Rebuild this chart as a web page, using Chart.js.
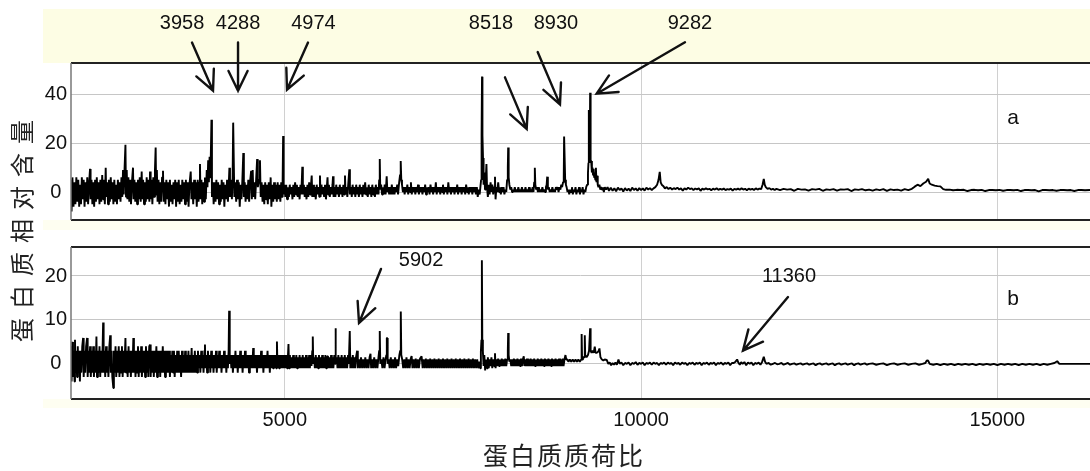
<!DOCTYPE html>
<html>
<head>
<meta charset="utf-8">
<script src="https://cdn.jsdelivr.net/npm/chart.js"></script>
<style>
  html, body { margin: 0; padding: 0; background: #fff; }
  #wrap { position: relative; width: 1090px; height: 471px; }
  canvas { position: absolute; left: 0; top: 0; }
</style>
</head>
<body>
<div id="wrap">
  <canvas id="chartB" width="1090" height="471"></canvas>
  <canvas id="chartA" width="1090" height="236"></canvas>
</div>
<script>
// axis ranges and ticks
const X_MIN = 2000, X_MAX = 16300;
const xTicks = [5000, 10000, 15000];
const yTicksA = [0, 20, 40];
const yTicksB = [0, 10, 20];

// spectrum a: [m/z, relative content]
const spectrumA = [
  [2000,5],[2008,-8],[2020,6],[2035,-6],[2050,4],[2062,-5],[2075,6],[2090,-4],[2102,5],[2115,-6],
  [2128,3],[2140,-5],[2152,6],[2165,-3],[2178,5],[2190,-6],[2203,4],[2215,-4],[2228,6],[2240,-5],
  [2255,4],[2267,9.5],[2275,-3],[2288,5],[2300,-5],[2312,4],[2325,-6],[2338,5],[2350,-4],[2362,6],
  [2375,-3],[2388,4],[2400,-5],[2412,5],[2425,-4],[2438,7],[2450,-3],[2462,5],[2475,-5],[2487,10],
  [2495,-2],[2508,4],[2520,-5],[2532,5],[2545,-4],[2558,6],[2570,-3],[2582,4],[2595,-5],[2608,5],
  [2620,-4],[2632,3],[2645,-5],[2658,5],[2670,-3],[2682,4],[2695,-4],[2708,6],[2720,-2],[2730,9],
  [2740,-1],[2752,10],[2764,19.4],[2772,-2],[2782,9],[2792,-3],[2805,6],[2818,-4],[2830,5],[2842,-5],
  [2855,4],[2870,10],[2878,-3],[2890,5],[2902,-4],[2915,4],[2928,-5],[2940,5],[2952,-3],[2965,6],
  [2978,-4],[2992,8.4],[3000,-3],[3012,5],[3025,-5],[3038,4],[3050,-4],[3062,6],[3075,-3],[3088,5],
  [3100,-4],[3109,8.4],[3118,-3],[3130,5],[3142,-5],[3155,6],[3165,-2],[3178,9],[3188,18.3],[3196,-1],
  [3205,9],[3215,-4],[3228,5],[3240,-5],[3252,4],[3265,-4],[3278,6],[3291,8.7],[3300,-4],[3312,4],
  [3325,-5],[3338,5],[3350,-3],[3362,4],[3375,-6],[3388,5],[3400,-4],[3412,3],[3425,-5],[3438,4],
  [3450,-3],[3462,5],[3475,-6],[3488,4],[3500,-4],[3512,5],[3525,-5],[3538,3],[3550,-4],[3562,5],
  [3575,-3],[3588,4],[3600,-5],[3612,5],[3625,-4],[3638,4],[3650,-6],[3662,3],[3680,8.4],[3690,-3],
  [3702,4],[3715,-5],[3728,5],[3740,-3],[3752,4],[3765,-6],[3778,5],[3790,-4],[3802,4],[3810,11.5],
  [3818,-3],[3830,5],[3842,-5],[3855,4],[3868,-4],[3880,6],[3892,-3],[3905,9],[3915,2],[3925,13],
  [3935,4],[3945,14.5],[3955,6],[3962,15],[3971,29.7],[3978,-2],[3990,4],[4002,-5],[4015,4],[4028,-4],
  [4040,5],[4052,-3],[4065,4],[4078,-5],[4090,3],[4102,-4],[4115,5],[4128,-3],[4140,4],[4152,-6],
  [4165,3],[4178,-3],[4190,5],[4202,-4],[4215,4],[4223,10],[4231,-2],[4245,5],[4258,-3],[4268,6],
  [4276,28.5],[4284,28.5],[4292,-2],[4305,4],[4318,-4],[4330,5],[4342,-3],[4355,4],[4368,-6],[4380,3],
  [4392,-3],[4405,5],[4418,16],[4426,-2],[4438,4],[4450,-4],[4462,3],[4475,-3],[4488,5],[4500,-4],
  [4512,4],[4528,8.7],[4538,-3],[4550,9],[4560,-2],[4572,4],[4585,-3],[4598,5],[4612,13.5],[4622,2],
  [4640,5],[4652,13],[4662,-2],[4675,4],[4688,-4],[4700,3],[4712,-5],[4725,4],[4738,-3],[4750,3],
  [4762,-5],[4775,4],[4790,-3],[4802,6],[4812,-6],[4825,3],[4838,-4],[4850,4],[4862,-3],[4875,3],
  [4888,-4],[4900,4],[4912,-3],[4925,3],[4938,-4],[4950,4],[4962,-2],[4970,5],[4977,23],[4984,-1],
  [4995,3],[5008,-2],[5020,3],[5032,-3],[5045,2],[5058,-2],[5070,3],[5082,-1],[5095,2],[5108,-3],
  [5120,3],[5132,-2],[5145,4],[5158,-1],[5170,3],[5182,-2],[5195,2],[5208,-3],[5220,3],[5232,-1],
  [5246,10.4],[5254,-1],[5268,3],[5280,-2],[5292,2],[5305,-3],[5318,3],[5330,-2],[5342,4],[5355,-1],
  [5368,3],[5378,6.8],[5386,-2],[5398,3],[5410,-2],[5422,2],[5435,-3],[5448,3],[5460,-1],[5472,2],
  [5485,-2],[5494,6.8],[5502,-2],[5515,3],[5528,-1],[5540,2],[5552,-2],[5565,3],[5578,-3],[5590,2],
  [5600,6],[5608,-1],[5620,3],[5632,-2],[5645,2],[5658,-1],[5670,3],[5677,6.5],[5685,-2],[5698,2],
  [5710,-2],[5722,3],[5735,-1],[5748,2],[5760,-2],[5772,3],[5785,-1],[5798,2],[5810,-2],[5822,3],
  [5835,-1],[5845,6.8],[5853,-1],[5865,2],[5878,-2],[5890,3],[5906,9.3],[5914,-1],[5928,2],[5940,-2],
  [5952,3],[5965,-1],[5978,2],[5990,-2],[6002,3],[6015,-1],[6028,2],[6040,-2],[6052,3],[6065,-1],
  [6078,2],[6090,-2],[6102,3],[6115,-1],[6128,4],[6140,-1],[6152,2],[6165,-2],[6178,3],[6190,-1],
  [6202,2],[6215,-2],[6228,3],[6240,-1],[6252,2],[6265,-2],[6278,3],[6290,-1],[6302,2],[6315,-1],
  [6325,5],[6333,13.6],[6340,1],[6352,3],[6365,-1],[6378,2],[6390,-1],[6402,3],[6415,-1],[6430,6.5],
  [6440,0],[6452,2],[6465,-1],[6478,2],[6490,-1],[6502,3],[6515,-1],[6528,2],[6540,-1],[6552,2],
  [6565,0],[6578,3],[6590,-1],[6605,4],[6618,7],[6627,12.7],[6635,5],[6645,3],[6658,0],[6670,2],
  [6682,-1],[6695,2],[6708,0],[6720,3],[6732,-1],[6745,2],[6758,0],[6770,4],[6782,-1],[6795,2],
  [6808,0],[6820,2],[6832,-1],[6845,2],[6858,0],[6870,3],[6882,-1],[6895,2],[6908,0],[6920,2],
  [6932,-1],[6945,2],[6958,0],[6970,3],[6982,-1],[6995,2],[7008,0],[7020,2],[7032,-1],[7045,3],
  [7058,0],[7070,2],[7082,-1],[7095,2],[7108,0],[7120,4],[7132,-1],[7145,2],[7158,0],[7170,2],
  [7182,-1],[7195,2],[7208,0],[7220,3],[7232,-1],[7245,2],[7258,0],[7270,2],[7282,-1],[7295,4],
  [7308,0],[7320,2],[7332,-1],[7345,2],[7358,0],[7370,2],[7382,-1],[7395,2],[7408,0],[7420,3],
  [7432,-1],[7445,2],[7458,0],[7470,2],[7482,-1],[7495,2],[7508,0],[7520,2],[7532,-1],[7545,3],
  [7558,0],[7570,2],[7582,-1],[7595,2],[7608,0],[7620,2],[7632,-1],[7645,2],[7658,0],[7670,2],
  [7682,-1],[7695,2],[7708,-2],[7720,1],[7735,-1],[7745,2],[7755,5],[7762,23.3],[7768,47.4],[7774,23.3],
  [7782,14],[7790,3],[7800,8],[7810,1],[7822,6],[7830,11.5],[7838,2],[7850,-2],[7862,3],[7875,-1],
  [7888,4],[7900,0],[7912,3],[7925,-1],[7938,2],[7950,6.3],[7958,-3],[7970,2],[7982,0],[7995,4],
  [8008,0],[8020,2],[8032,-1],[8045,2],[8058,0],[8070,2],[8082,-1],[8095,1],[8108,0],[8120,5],
  [8130,10],[8135,18.3],[8142,6],[8152,3],[8165,1],[8178,2],[8190,0],[8202,1],[8215,0],[8228,2],
  [8240,0],[8252,1],[8265,0],[8278,2],[8290,0],[8302,1],[8315,0],[8328,2],[8340,0],[8352,1],
  [8365,0],[8378,2],[8390,0],[8402,1],[8415,0],[8428,2],[8440,0],[8452,1],[8465,0],[8478,2],
  [8490,0],[8500,4],[8509,10],[8516,3],[8528,1],[8540,2],[8552,0],[8565,2],[8578,0],[8590,1],
  [8602,0],[8615,2],[8628,0],[8640,1],[8652,0],[8665,2],[8675,3],[8683,6.3],[8692,1],[8705,2],
  [8718,0],[8730,1],[8742,0],[8755,2],[8768,0],[8780,1],[8792,0],[8805,2],[8818,1],[8830,2],
  [8842,0],[8855,2],[8868,1],[8880,3],[8892,2],[8905,4],[8915,6],[8920,22.8],[8928,22.8],[8935,5],
  [8945,3],[8955,2],[8968,0],[8980,1],[8992,-1],[9005,1],[9018,0],[9030,2],[9042,-1],[9055,1],
  [9068,0],[9080,2],[9092,-1],[9105,1],[9118,0],[9130,2],[9142,-1],[9155,1],[9168,0],[9180,2],
  [9192,-1],[9205,1],[9218,0],[9230,2],[9242,3],[9255,8],[9262,12],[9267,33.7],[9272,14],[9280,12],
  [9285,40.8],[9292,13],[9300,12.7],[9310,8],[9318,10],[9326,7],[9334,9.5],[9342,6],[9350,8],[9358,5],
  [9366,10],[9374,4],[9382,6.7],[9392,3],[9402,2],[9415,3],[9428,1],[9440,2],[9452,1],[9465,2],
  [9478,0],[9490,2],[9510,1],[9530,2],[9550,0.5],[9575,1.8],[9600,0.5],[9625,1.5],[9650,0.3],[9675,1.8],
  [9700,0.8],[9725,1.5],[9750,0.2],[9775,1.6],[9800,0.6],[9825,1.4],[9850,0.4],[9875,1.8],[9900,0.8],[9925,1.5],
  [9950,0.5],[9975,1.6],[10000,0.8],[10025,1.5],[10050,0.6],[10075,1.8],[10100,1],[10125,1.6],[10150,0.8],[10175,1.5],
  [10200,2],[10225,3],[10245,5],[10262,8.3],[10275,4],[10290,3],[10310,2.5],[10335,1.5],[10360,2],[10385,1.2],
  [10410,1.8],[10435,1],[10460,1.6],[10485,1.2],[10510,1.8],[10535,1],[10560,1.5],[10585,0.6],[10610,1.5],[10635,1],
  [10660,1.8],[10685,1.2],[10710,1.5],[10735,0.8],[10760,1.4],[10785,1.1],[10810,1.5],[10835,0.5],[10860,1.4],[10885,1],
  [10910,1.5],[10935,1.1],[10960,1.3],[10985,0.7],[11010,1.4],[11035,1],[11060,1.5],[11085,0.9],[11110,1.3],[11135,1],
  [11160,1.4],[11185,0.8],[11210,1.2],[11235,1],[11260,1.4],[11285,0.6],[11310,1.3],[11335,1],[11360,1.4],[11385,0.9],
  [11410,1.5],[11435,1],[11460,1.3],[11485,0.7],[11510,1.4],[11535,1],[11560,1.3],[11585,0.8],[11610,1.5],[11635,1],
  [11660,1.4],[11685,1.2],[11705,3],[11722,5.4],[11735,3],[11750,2],[11775,1.3],[11800,1.6],[11825,1],[11850,1.3],
  [11875,0.8],[11900,1.3],[11950,0.8],[12000,1.3],[12050,1],[12100,1.2],[12150,0.5],[12200,1.3],[12250,1],[12300,1.1],
  [12350,0.6],[12400,1.2],[12450,1],[12500,1.3],[12550,0.5],[12600,1.1],[12650,0.9],[12700,1.2],[12750,0.6],[12800,1.1],
  [12850,1],[12900,1.2],[12950,0.4],[13000,1.1],[13050,0.9],[13100,1.2],[13150,0.7],[13200,1],[13250,0.6],[13300,1.1],
  [13350,0.8],[13400,1.2],[13450,0.5],[13500,1.1],[13550,0.8],[13600,1],[13650,0.6],[13700,1.2],[13750,0.8],[13800,1.3],
  [13840,2.2],[13880,3],[13920,2.4],[13960,3.5],[14000,4.2],[14029,5.4],[14050,3.5],[14080,3],[14120,2.6],[14160,2.4],
  [14200,2.3],[14240,1.2],[14280,0.9],[14330,1],[14380,0.7],[14430,0.9],[14480,0.8],[14530,0.9],[14580,0.4],[14630,0.8],
  [14680,0.9],[14730,0.7],[14780,0.9],[14830,0.4],[14880,0.8],[14930,0.8],[14980,0.7],[15030,0.9],[15080,0.5],[15130,0.8],
  [15180,0.8],[15230,0.7],[15280,0.9],[15330,0.4],[15380,0.8],[15430,0.8],[15480,0.7],[15530,0.8],[15580,0.3],[15630,0.8],
  [15680,0.8],[15730,0.7],[15780,0.8],[15830,0.5],[15880,0.8],[15930,0.8],[15980,0.7],[16030,0.8],[16080,0.4],[16130,0.8],
  [16180,0.8],[16230,0.7],[16300,0.8]
];

// spectrum b: [m/z, relative content]
const spectrumB = [
  [2000,4],[2008,-4],[2018,5],[2028,-3],[2040,3],[2050,-4],[2056,5.5],[2064,-2],[2075,3],[2085,-3],
  [2095,4],[2105,-2],[2115,3],[2125,-4],[2135,3],[2145,-2],[2158,4],[2170,5.9],[2178,-3],[2190,3],
  [2200,-2],[2212,4],[2226,5.9],[2234,-3],[2245,3],[2255,-2],[2268,4],[2278,-3],[2290,3],[2300,-2],
  [2312,4],[2322,-3],[2335,3],[2345,-2],[2357,6.2],[2365,-3],[2378,3],[2388,-2],[2400,4],[2410,-3],
  [2422,3],[2432,-2],[2444,4],[2451,9.4],[2458,-2],[2470,3],[2480,-3],[2492,4],[2502,-2],[2515,3],
  [2525,-3],[2538,4],[2550,6.5],[2558,-2],[2570,3],[2580,-3],[2594,-5.5],[2602,3],[2612,-2],[2625,4],
  [2635,-3],[2648,3],[2658,-2],[2670,4],[2680,-3],[2692,3],[2702,-2],[2715,4],[2725,-3],[2738,3],
  [2748,-2],[2764,5.9],[2772,-2],[2785,3],[2795,-3],[2808,4],[2818,-2],[2830,3],[2840,-3],[2852,3],
  [2862,-2],[2875,5.9],[2883,-2],[2895,3],[2905,-3],[2918,3],[2928,-2],[2940,4],[2950,-3],[2962,3],
  [2972,-2],[2985,4],[2995,-3],[3008,3],[3018,-2],[3030,3],[3040,-3],[3052,4],[3062,-2],[3075,3],
  [3085,-3],[3098,4],[3109,4.4],[3118,-3],[3130,3],[3140,-2],[3152,3],[3162,-3],[3175,3],[3185,-2],
  [3198,4],[3208,-3],[3220,3],[3230,-2],[3242,3],[3252,-3],[3265,3],[3275,-2],[3288,4],[3298,-2],
  [3310,3],[3320,-3],[3332,3],[3342,-2],[3355,3],[3365,-2],[3378,3],[3388,-3],[3400,2],[3410,-2],
  [3422,3],[3432,-2],[3445,3],[3455,-3],[3468,2],[3478,-2],[3490,3],[3500,-2],[3512,3],[3522,-2],
  [3535,2],[3545,-3],[3558,3],[3568,-2],[3580,2],[3590,-2],[3602,3],[3612,-2],[3625,2],[3635,-2],
  [3648,3],[3658,-2],[3670,2],[3680,-2],[3693,3.6],[3702,-2],[3715,2],[3725,-2],[3738,3],[3748,-2],
  [3760,2],[3770,-2],[3782,3],[3792,-1],[3805,2],[3815,-2],[3828,3],[3838,-1],[3850,2],[3860,-2],
  [3872,3],[3880,4.4],[3888,-1],[3900,2],[3910,-2],[3922,3],[3932,-1],[3945,2],[3955,-2],[3968,3],
  [3978,-1],[3990,2],[4000,-2],[4012,2],[4022,-1],[4035,3],[4045,-2],[4058,2],[4068,-1],[4080,3],
  [4090,-1],[4102,2],[4112,-2],[4125,2],[4135,-1],[4148,3],[4158,-1],[4170,2],[4180,-2],[4192,2],
  [4202,-1],[4212,3],[4219,12.1],[4225,12.1],[4230,0],[4240,2],[4250,-1],[4262,2],[4272,-2],[4285,2],
  [4295,-1],[4308,3],[4318,-1],[4330,2],[4340,-2],[4352,2],[4362,-1],[4375,3],[4385,-1],[4398,2],
  [4408,-2],[4420,2],[4430,-1],[4442,3],[4452,-1],[4465,2],[4475,-1],[4488,2],[4498,-2],[4510,2],
  [4520,-1],[4532,2],[4542,-1],[4557,3.6],[4565,-1],[4578,2],[4588,-1],[4600,2],[4610,-2],[4622,2],
  [4632,-1],[4645,2],[4655,-1],[4668,3],[4678,-1],[4690,2],[4700,-2],[4712,2],[4722,-1],[4735,2],
  [4745,-1],[4758,3],[4768,-1],[4780,2],[4790,-2],[4802,2],[4812,-1],[4825,2],[4835,-1],[4848,2],
  [4858,-1],[4870,2],[4880,-1],[4890,5.1],[4898,-1],[4910,2],[4920,-1],[4932,2],[4942,-1],[4955,2],
  [4965,-1],[4978,2],[4988,-1],[5000,2],[5010,-1],[5022,2],[5032,-1],[5045,2],[5052,4.5],[5060,-1],
  [5072,2],[5082,-1],[5095,1.5],[5105,-1],[5118,2],[5128,-1],[5140,1.5],[5150,-1],[5162,2],[5172,-1],
  [5185,1.5],[5195,-1],[5208,2],[5218,-1],[5230,1.5],[5240,-1],[5252,2],[5262,-1],[5275,1.5],[5285,-1],
  [5298,2],[5308,-1],[5320,1.5],[5330,-1],[5342,2],[5352,-1],[5365,2],[5375,-0.5],[5386,3],[5393,6.2],
  [5400,0],[5412,1.5],[5422,-1],[5435,2],[5445,-1],[5458,1.5],[5468,-1],[5480,2],[5490,-1],[5502,1.5],
  [5512,-1],[5525,2],[5535,-1],[5548,1.5],[5558,-1],[5570,2],[5580,-1],[5592,1.5],[5606,1.8],[5615,-1],
  [5628,1.5],[5638,-1],[5650,2],[5660,-1],[5672,1.5],[5682,-1],[5695,2],[5705,0],[5711,8.1],[5718,0],
  [5730,1.5],[5740,-1],[5752,2],[5762,-1],[5775,1.5],[5785,-1],[5798,2],[5808,-1],[5820,1.5],[5830,-1],
  [5842,2],[5852,-1],[5865,1.5],[5875,-1],[5888,2],[5898,0],[5912,7.5],[5920,-1],[5932,1.5],[5942,-1],
  [5955,2],[5965,-1],[5978,1.5],[5988,-1],[6000,1.5],[6016,3],[6025,-1],[6040,1],[6055,-1],[6070,1.5],
  [6085,-1],[6100,1],[6115,-1],[6130,1.5],[6145,-1],[6160,1],[6175,-1],[6190,1.5],[6203,2.3],[6212,-1],
  [6225,1],[6240,-1],[6255,1.5],[6270,-1],[6285,1],[6300,-1],[6315,1.5],[6325,3],[6333,7.5],[6340,0],
  [6355,1],[6370,-1],[6385,1.5],[6400,-1],[6415,1],[6425,2],[6432,5.9],[6437,5.9],[6444,0],[6458,1],
  [6472,-1],[6488,1.5],[6502,-1],[6518,1],[6532,-1],[6548,1.5],[6562,-1],[6578,1],[6592,-0.5],[6608,2],
  [6620,3],[6628,11.9],[6635,2],[6648,1],[6662,-1],[6678,1],[6692,-1],[6708,1.5],[6722,-1],[6738,1],
  [6752,-1],[6768,1.2],[6780,1.8],[6792,-1],[6808,1],[6822,-1],[6838,1.2],[6852,-1],[6868,1],[6882,-1],
  [6898,1.2],[6920,1.7],[6935,-1],[6950,1],[6965,-1],[6980,1.2],[6995,-1],[7010,1],[7025,-1],[7040,1.2],
  [7055,-1],[7070,1],[7085,-1],[7100,1.2],[7115,-1],[7130,1],[7145,-1],[7160,1.2],[7175,-1],[7190,1],
  [7205,-1],[7220,1.2],[7235,-1],[7250,1],[7265,-1],[7280,1.2],[7295,-1],[7310,1],[7325,-1],[7340,1.2],
  [7355,-1],[7370,1],[7385,-1],[7400,1.2],[7415,-1],[7430,1],[7445,-1],[7460,1.2],[7475,-1],[7490,1],
  [7505,-1],[7520,1.2],[7535,-1],[7550,1],[7565,-1],[7580,1.2],[7595,-1],[7610,1],[7625,-1],[7640,1.2],
  [7655,-1],[7670,1],[7685,-1],[7700,1],[7715,-1],[7730,0.5],[7745,-1],[7752,2.8],[7760,5.5],[7766,23.6],
  [7772,5.5],[7780,2.8],[7790,-0.5],[7800,2],[7812,-1.5],[7825,1],[7838,-1],[7850,1.5],[7862,-1],[7875,1],
  [7888,-0.5],[7900,1.5],[7912,-1],[7925,1],[7938,-0.5],[7950,2.4],[7958,-1],[7970,1],[7982,-0.5],[7995,1.2],
  [8008,-0.5],[8020,1],[8032,-0.5],[8045,1.2],[8058,-0.5],[8070,1],[8082,-0.5],[8095,1.2],[8108,-0.5],[8120,1],
  [8130,3],[8135,7],[8142,2],[8152,0.5],[8165,1],[8178,-0.5],[8190,1],[8202,-0.5],[8215,1.2],[8228,-0.5],
  [8240,1],[8252,-0.5],[8265,1.2],[8278,-0.5],[8290,1],[8302,-0.5],[8315,1.2],[8328,-0.5],[8340,1],[8354,1.7],
  [8362,-0.5],[8375,1],[8388,-0.5],[8400,1.2],[8412,-0.5],[8425,1],[8438,-0.5],[8450,1.2],[8462,-0.5],[8475,1],
  [8488,-0.5],[8500,1.2],[8512,-0.5],[8525,1],[8538,-0.5],[8550,1.2],[8562,-0.5],[8575,1],[8588,-0.5],[8600,1.2],
  [8612,-0.5],[8625,1],[8638,-0.5],[8650,1.2],[8662,-0.5],[8675,1],[8688,-0.5],[8700,1.2],[8712,-0.5],[8725,1],
  [8738,-0.5],[8750,1.2],[8762,-0.5],[8775,1],[8788,-0.5],[8800,1.2],[8812,-0.5],[8825,1],[8838,-0.5],[8850,1.2],
  [8862,-0.5],[8875,1],[8888,-0.5],[8900,1.2],[8912,-0.5],[8925,1],[8939,2],[8950,1],[8965,1],[8980,0.5],
  [9000,1],[9020,0.5],[9040,1],[9060,0.5],[9080,1],[9100,0.5],[9120,1],[9140,0.5],[9160,1],[9166,6.8],
  [9172,1],[9185,1.5],[9204,1.5],[9210,6.5],[9216,2],[9235,1.5],[9255,2],[9270,3],[9285,8.1],[9292,3],
  [9305,2.5],[9320,3],[9335,2.5],[9350,3.9],[9362,2.5],[9378,2.5],[9400,2.8],[9416,3.5],[9430,1.5],[9450,1],
  [9470,0.8],[9490,1],[9518,0.9],[9540,0],[9560,0.3],[9580,-0.3],[9600,0.2],[9620,-0.2],[9640,0.3],[9660,-0.2],
  [9683,1],[9700,0],[9725,0.3],[9750,-0.3],[9775,0.2],[9800,0],[9825,0.3],[9850,-0.3],[9875,0.2],[9900,0],
  [9925,0.4],[9950,-0.2],[9975,0.2],[10000,0],[10025,0.3],[10050,-0.3],[10075,0.2],[10100,0],[10125,0.3],[10150,-0.2],
  [10175,0.3],[10200,0],[10225,0.2],[10250,-0.3],[10275,0.2],[10300,0],[10325,0.3],[10350,-0.2],[10375,0.3],[10400,0],
  [10425,0.2],[10450,-0.3],[10475,0.3],[10500,0],[10525,0.2],[10550,-0.2],[10575,0.3],[10600,0],[10625,0.2],[10650,-0.3],
  [10675,0.2],[10700,0],[10725,0.3],[10750,-0.2],[10775,0.2],[10800,0],[10825,0.3],[10850,-0.3],[10875,0.2],[10900,0],
  [10925,0.3],[10950,-0.2],[10975,0.2],[11000,0],[11025,0.3],[11050,-0.3],[11075,0.2],[11100,0],[11125,0.3],[11150,-0.2],
  [11175,0.2],[11200,0],[11225,0.3],[11250,-0.3],[11275,0.2],[11300,0.2],[11325,0.5],[11348,1],[11365,0.3],[11385,-0.2],
  [11405,0.4],[11425,0],[11450,0.4],[11475,-0.3],[11500,0.3],[11525,0],[11550,0.3],[11575,-0.3],[11600,0.2],[11625,0],
  [11650,0.3],[11675,-0.2],[11700,0.5],[11722,1.6],[11740,0.5],[11760,0],[11790,0.2],[11820,-0.2],[11850,0],[11880,0.2],
  [11910,-0.1],[11940,0],[11970,0.2],[12000,-0.2],[12030,0],[12060,0.2],[12090,-0.2],[12120,0],[12150,0.1],[12180,-0.2],
  [12210,0],[12240,0.1],[12270,-0.2],[12300,0],[12330,0.1],[12360,-0.2],[12390,0],[12420,0.1],[12450,-0.3],[12480,0],
  [12510,0.1],[12540,-0.2],[12570,0],[12600,0.1],[12630,-0.2],[12660,0],[12690,0.1],[12720,-0.3],[12750,0],[12780,0.1],
  [12810,-0.2],[12840,0],[12870,0.1],[12900,-0.2],[12930,0],[12960,0.1],[12990,-0.3],[13020,0],[13050,0.1],[13080,-0.2],
  [13110,0],[13140,0.1],[13170,-0.2],[13200,0],[13250,0.1],[13300,-0.2],[13350,0],[13400,0.1],[13450,-0.3],[13500,0],
  [13550,0.1],[13600,-0.2],[13650,0],[13700,0.1],[13750,-0.2],[13800,0],[13850,0.1],[13900,-0.2],[13950,0],[13990,0.2],
  [14010,0.8],[14030,0.7],[14050,0],[14100,-0.2],[14150,0],[14200,-0.3],[14250,0],[14300,-0.2],[14350,0],[14400,-0.3],
  [14450,0],[14500,-0.2],[14550,0],[14600,-0.2],[14650,0],[14700,-0.3],[14750,0],[14800,-0.2],[14850,0],[14900,-0.2],
  [14950,0],[15000,-0.3],[15050,0],[15100,-0.2],[15150,0],[15200,-0.2],[15250,0],[15300,-0.3],[15350,0],[15400,-0.2],
  [15450,0],[15500,-0.2],[15550,0],[15600,-0.3],[15650,0],[15700,-0.2],[15750,0],[15800,0.2],[15840,0.6],[15870,0],
  [16000,0],[16150,0],[16300,0]
];

// peak labels, with [m/z, value] of the text and [tail m/z, tail value, tip m/z, tip value] of each arrow
const peakLabelsA = ["3958", "4288", "4974", "8518", "8930", "9282"];
const labelPosA = [[3558, 69.3], [4344, 69.3], [5403, 69.3], [7894, 69.3], [8806, 69.3], [10686, 69.3]];
const arrowsA = [[3698, 61.4, 3993, 41.6], [4344, 61.4, 4344, 41.6], [5326, 61.4, 5031, 42],
                 [8090, 47.1, 8395, 25.9], [8549, 57.5, 8862, 36], [10616, 61.5, 9377, 40.4]];
const peakLabelsB = ["5902", "11360"];
const labelPosB = [[6912, 23.6], [12076, 19.8]];
const arrowsB = [[6350, 21.6, 6042, 9.3], [12062, 15.2, 11430, 3]];

const yTitle = "蛋白质相对含量";
const xTitle = "蛋白质质荷比";

const NUM_FONT = "'Liberation Sans', Arial, sans-serif";
const CJK_FONT = "'Noto Sans CJK SC', sans-serif";
const BAND = "#fdfde4";   // pale yellow behind the labels
const BAND_LIGHT = "#fefef1";

function drawArrow(ctx, x1, y1, x2, y2) {
  const ang = Math.atan2(y2 - y1, x2 - x1);
  const head = 22, spread = Math.PI / 7;
  ctx.beginPath();
  ctx.moveTo(x1, y1);
  ctx.lineTo(x2, y2);
  ctx.moveTo(x2 - head * Math.cos(ang - spread), y2 - head * Math.sin(ang - spread));
  ctx.lineTo(x2, y2);
  ctx.lineTo(x2 - head * Math.cos(ang + spread), y2 - head * Math.sin(ang + spread));
  ctx.stroke();
}

// backgrounds, frame, arrows, texts
const panelPlugin = {
  id: "panel",
  beforeDraw(chart, args, o) {
    const { ctx, chartArea: a } = chart;
    ctx.save();
    if (o.topBand) {
      ctx.fillStyle = BAND;
      ctx.fillRect(43, 9, a.right - 43, a.top - 9);
    }
    ctx.fillStyle = BAND_LIGHT;
    ctx.fillRect(43, a.bottom, a.right - 43, o.bandBelow);
    ctx.fillStyle = "#fff";
    ctx.fillRect(a.left, a.top, a.right - a.left, a.bottom - a.top);
    ctx.restore();
  },
  afterDatasetsDraw(chart, args, o) {
    const { ctx, chartArea: a, scales: { x, y } } = chart;
    ctx.save();
    // frame
    ctx.strokeStyle = "#222";
    ctx.lineWidth = 2;
    ctx.beginPath();
    ctx.moveTo(a.left, a.top); ctx.lineTo(a.right, a.top);
    ctx.moveTo(a.left, a.bottom); ctx.lineTo(a.right, a.bottom);
    ctx.stroke();
    ctx.strokeStyle = "#777";
    ctx.lineWidth = 1.5;
    ctx.beginPath();
    ctx.moveTo(a.left, a.top); ctx.lineTo(a.left, a.bottom);
    ctx.stroke();

    // arrows + peak numbers
    ctx.strokeStyle = "#111";
    ctx.fillStyle = "#111";
    ctx.lineWidth = 2.4;
    ctx.lineCap = "round";
    ctx.font = "20px " + NUM_FONT;
    ctx.textAlign = "center";
    ctx.textBaseline = "middle";
    o.labels.forEach((t, i) => {
      const p = o.textAt[i], r = o.arrows[i];
      ctx.fillText(t, x.getPixelForValue(p[0]), y.getPixelForValue(p[1]));
      drawArrow(ctx, x.getPixelForValue(r[0]), y.getPixelForValue(r[1]),
                x.getPixelForValue(r[2]), y.getPixelForValue(r[3]));
    });
    ctx.font = "21px " + NUM_FONT;
    ctx.fillText(o.tag, x.getPixelForValue(o.tagAt[0]), y.getPixelForValue(o.tagAt[1]));
    ctx.restore();
  },
  afterDraw(chart, args, o) {
    if (!o.titles) return;
    const { ctx } = chart;
    ctx.save();
    ctx.fillStyle = "#222";
    ctx.textAlign = "center";
    ctx.textBaseline = "middle";
    // y title, rotated, spans both panels
    ctx.font = "24px " + CJK_FONT;
    ctx.translate(22, 231);
    ctx.rotate(-Math.PI / 2);
    [...yTitle].forEach((c, i) => ctx.fillText(c, (i - (yTitle.length - 1) / 2) * 33, 0));
    ctx.setTransform(1, 0, 0, 1, 0, 0);
    ctx.font = "25px " + CJK_FONT;
    [...xTitle].forEach((c, i) => ctx.fillText(c, 563 + (i - (xTitle.length - 1) / 2) * 27, 455));
    ctx.restore();
  }
};

function makePanel(id, spectrum, yMin, yMax, yTicks, pad, showX, notes) {
  return new Chart(document.getElementById(id), {
    type: "line",
    data: {
      datasets: [{
        data: spectrum.map(([mz, v]) => ({ x: mz, y: v })),
        borderColor: "#000",
        borderWidth: 1.9,
        borderJoinStyle: "bevel",
        pointRadius: 0,
        tension: 0,
        fill: false,
      }],
    },
    options: {
      responsive: false,
      animation: false,
      events: [],
      layout: { padding: { top: pad[0], bottom: pad[1], left: 0, right: 0 } },
      plugins: {
        legend: { display: false },
        tooltip: { enabled: false },
        panel: notes,
      },
      scales: {
        x: {
          type: "linear",
          min: X_MIN,
          max: X_MAX,
          afterBuildTicks: (s) => { s.ticks = xTicks.map((v) => ({ value: v })); },
          grid: { color: "#d0d0d0", drawTicks: false },
          border: { display: false },
          ticks: {
            display: showX,
            padding: 9,
            color: "#111",
            font: { family: NUM_FONT, size: 20 },
            callback: (v) => String(v),
          },
          afterFit: (s) => { s.height = showX ? 72 : 0; },
        },
        y: {
          min: yMin,
          max: yMax,
          afterBuildTicks: (s) => { s.ticks = yTicks.map((v) => ({ value: v })); },
          grid: { color: "#c6c6c6", drawTicks: false },
          border: { display: false },
          ticks: {
            padding: 4,
            crossAlign: "center",
            color: "#111",
            font: { family: NUM_FONT, size: 20 },
            callback: (v) => String(v),
          },
          afterFit: (s) => { s.width = 71; },
        },
      },
    },
    plugins: [panelPlugin],
  });
}

// panel b (whole page canvas, also carries the axis titles)
makePanel("chartB", spectrumB, -8, 26.6, yTicksB, [247, 0], true, {
  topBand: false, bandBelow: 9, titles: true,
  labels: peakLabelsB, textAt: labelPosB, arrows: arrowsB, tag: "b", tagAt: [15219, 14.8],
});

// panel a
makePanel("chartA", spectrumA, -11.5, 53, yTicksA, [63, 10], false, {
  topBand: true, bandBelow: 10, titles: false,
  labels: peakLabelsA, textAt: labelPosA, arrows: arrowsA, tag: "a", tagAt: [15219, 30.5],
});
</script>
</body>
</html>
